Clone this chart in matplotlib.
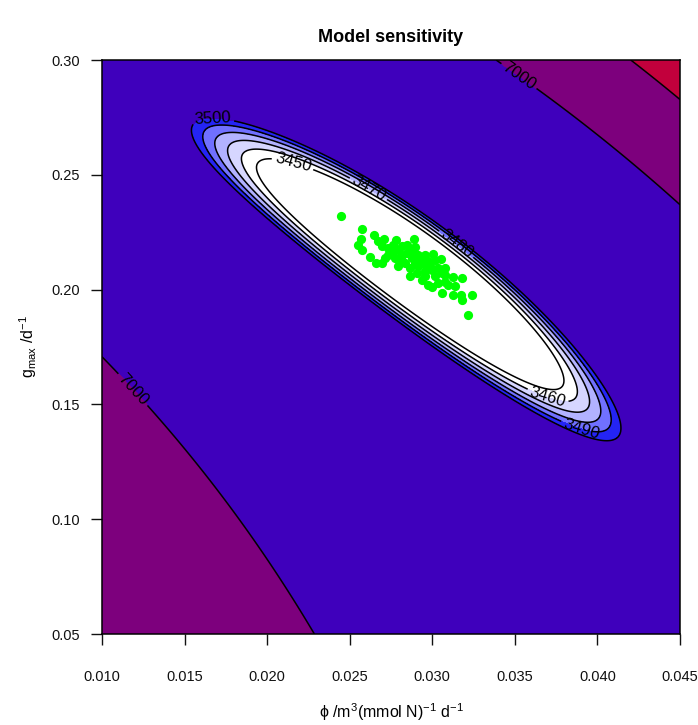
import numpy as np
import matplotlib
matplotlib.use("Agg")
import matplotlib.pyplot as plt

plt.rcParams["font.family"] = ["Liberation Sans", "DejaVu Sans"]
plt.rcParams["mathtext.default"] = "regular"

# axes
phi_range = (0.010, 0.045)
gmax_range = (0.05, 0.30)
phi_ticks = [0.010, 0.015, 0.020, 0.025, 0.030, 0.035, 0.040, 0.045]
gmax_ticks = [0.05, 0.10, 0.15, 0.20, 0.25, 0.30]

# cost surface: a bent, lopsided valley
valley_center = (0.02892, 0.20913)      # (phi, gmax) of the minimum
valley_scale = (0.012107, 0.086957)     # one unit in phi / gmax
valley_angle_deg = 36.3
valley_bend = 0.0408
half_length = 1.32                      # 3500 contour along the valley
half_width = 0.25                       # 3500 contour across the valley
cost_min = 3400.0
cost_lin = 95.0
cost_quad = 5.0
lower_squeeze = (0.160, 0.1157, 0.066)  # flatter slope on the lower-left side

fill_levels = [3000, 3460, 3470, 3480, 3490, 3500, 7000, 13000, 40000]
fill_colors = ["#FFFFFF", "#D6D6FF", "#B2B2FF", "#7070FF", "#2424F4",
               "#3F00BC", "#7D007D", "#C2003C"]
line_levels = [3450, 3460, 3470, 3480, 3490, 3500, 7000, 13000]

# contour labels (level, phi, gmax)
label_levels = [3500, 3450, 3470, 3480, 3460, 3490, 7000, 7000]
label_phi = [0.0167, 0.0214, 0.0261, 0.0312, 0.0370, 0.0389, 0.0112, 0.0353]
label_gmax = [0.2704, 0.2513, 0.2435, 0.2174, 0.1535, 0.1361, 0.1520, 0.2935]

# parameter estimates (green points)
pts_phi = [0.02447, 0.02572, 0.02568, 0.02548, 0.02572, 0.02649, 0.02673, 0.02709,
           0.02778, 0.02891, 0.02622, 0.02657, 0.02697, 0.02693, 0.02733, 0.02763,
           0.02814, 0.02844, 0.02895, 0.02733, 0.02774, 0.02814, 0.02844, 0.02875,
           0.02915, 0.02955, 0.03006, 0.03052, 0.02794, 0.02864, 0.02864, 0.02915,
           0.02945, 0.02975, 0.03016, 0.02905, 0.02955, 0.02996, 0.03036, 0.03076,
           0.02955, 0.03016, 0.03076, 0.03127, 0.02975, 0.02996, 0.03036, 0.03076,
           0.03096, 0.03137, 0.03177, 0.03056, 0.03127, 0.03173, 0.03177, 0.03242,
           0.03214, 0.02814, 0.02895, 0.02763, 0.02794, 0.02875, 0.02925, 0.02834,
           0.02985, 0.02935, 0.02713, 0.03056]
pts_gmax = [0.23217, 0.22638, 0.22203, 0.21957, 0.21710, 0.22362, 0.22130, 0.22203,
            0.22174, 0.22217, 0.21406, 0.21160, 0.21160, 0.21884, 0.21812, 0.21667,
            0.21884, 0.21928, 0.21841, 0.21522, 0.21377, 0.21522, 0.21594, 0.21377,
            0.21522, 0.21522, 0.21551, 0.21333, 0.21014, 0.20942, 0.20580, 0.21014,
            0.21160, 0.21232, 0.21304, 0.20725, 0.20797, 0.20870, 0.20942, 0.20942,
            0.20580, 0.20580, 0.20652, 0.20536, 0.20217, 0.20101, 0.20290, 0.20333,
            0.20217, 0.20145, 0.20507, 0.19855, 0.19783, 0.19754, 0.19565, 0.19783,
            0.18884, 0.21232, 0.21160, 0.21957, 0.21739, 0.21739, 0.21304, 0.21160,
            0.21014, 0.20435, 0.21377, 0.20725]


def cost_surface(phi, gmax):
    u = (phi - valley_center[0]) / valley_scale[0]
    w = (gmax - valley_center[1]) / valley_scale[1]
    a = np.deg2rad(valley_angle_deg)
    s = np.cos(a) * u - np.sin(a) * w
    t = np.sin(a) * u + np.cos(a) * w + valley_bend * s ** 2
    alpha = np.clip(lower_squeeze[0] + lower_squeeze[1] * s, 0, None)
    squeeze = 1 + alpha * np.abs(t) + lower_squeeze[2] * t ** 2
    t = np.where(t < 0, t / squeeze, t)
    q = (s / half_length) ** 2 + (t / half_width) ** 2
    return cost_min + cost_lin * q + cost_quad * q ** 2


phi_grid = np.linspace(phi_range[0], phi_range[1], 400)
gmax_grid = np.linspace(gmax_range[0], gmax_range[1], 400)
P, G = np.meshgrid(phi_grid, gmax_grid)
Z = cost_surface(P, G)

fig = plt.figure(figsize=(6.98, 7.25), dpi=100)
ax = fig.add_axes([102 / 698, 1 - 634 / 725, 578 / 698, 574 / 725])

ax.contourf(P, G, Z, levels=fill_levels, colors=fill_colors)

# one contour set per level so each label lands on its own line
line_sets = {}
for lev in line_levels:
    line_sets[lev] = ax.contour(P, G, Z, levels=[lev], colors="black", linewidths=1.1)
for lev, x, y in zip(label_levels, label_phi, label_gmax):
    line_sets[lev].clabel(manual=[(x, y)], inline=True, fontsize=12,
                          fmt="%d", inline_spacing=3)

ax.scatter(pts_phi, pts_gmax, s=44, color="#00FF00", zorder=5, linewidths=0)

ax.set_xlim(*phi_range)
ax.set_ylim(*gmax_range)
ax.set_xticks(phi_ticks)
ax.set_xticklabels([f"{v:.3f}" for v in phi_ticks])
ax.set_yticks(gmax_ticks)
ax.set_yticklabels([f"{v:.2f}" for v in gmax_ticks])
ax.tick_params(direction="out", length=8, width=1, labelsize=10.5, colors="#111111")
ax.tick_params(axis="x", pad=18)
ax.tick_params(axis="y", pad=8)
for sp in ax.spines.values():
    sp.set_linewidth(1.1)

fig.text(391 / 698, 1 - 38 / 725, "Model sensitivity", ha="center", va="center",
         fontsize=13, fontweight="bold")
fig.text(391 / 698, 1 - 712 / 725, r"$\phi$ /m$^3$(mmol N)$^{-1}$ d$^{-1}$",
         ha="center", va="center", fontsize=11.5)
fig.text(28 / 698, 1 - 347 / 725, r"g$_{max}$ /d$^{-1}$", ha="center", va="center",
         rotation=90, fontsize=11.5)

fig.savefig("out.png", dpi=100)
